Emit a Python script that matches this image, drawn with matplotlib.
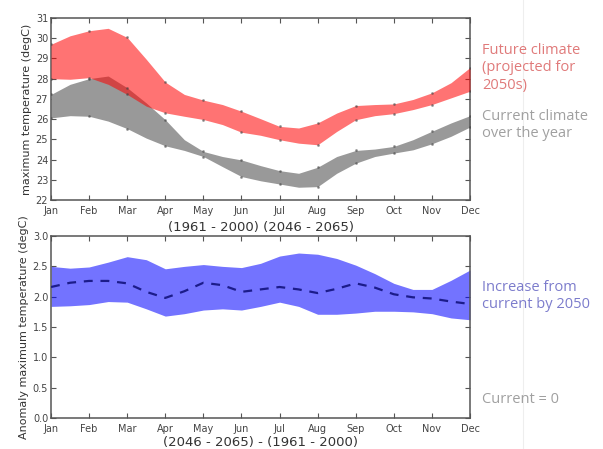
import matplotlib
matplotlib.use('Agg')
import matplotlib.pyplot as plt
import numpy as np
from matplotlib.lines import Line2D

# half-month samples, Jan .. Dec (23 points)
RED_HI = [29.70, 30.12, 30.37, 30.49, 30.04, 28.96, 27.83, 27.22, 26.94, 26.72,
          26.39, 26.02, 25.64, 25.56, 25.81, 26.30, 26.67, 26.72, 26.75, 26.97,
          27.30, 27.80, 28.55]
RED_LO = [28.00, 27.97, 28.05, 27.72, 27.22, 26.64, 26.31, 26.14, 25.98, 25.73,
          25.35, 25.20, 24.98, 24.81, 24.73, 25.39, 25.97, 26.17, 26.27, 26.47,
          26.72, 27.05, 27.38]
GRAY_HI = [27.22, 27.72, 28.00, 28.13, 27.55, 26.80, 25.97, 24.98, 24.40, 24.15,
           23.98, 23.70, 23.45, 23.32, 23.62, 24.15, 24.45, 24.52, 24.65, 24.98,
           25.40, 25.81, 26.17]
GRAY_LO = [26.06, 26.17, 26.14, 25.90, 25.53, 25.06, 24.68, 24.45, 24.15, 23.65,
           23.16, 22.95, 22.79, 22.63, 22.66, 23.32, 23.82, 24.15, 24.32, 24.48,
           24.78, 25.15, 25.61]

BLUE_HI = [2.50, 2.47, 2.49, 2.57, 2.66, 2.61, 2.46, 2.50, 2.53, 2.50, 2.48, 2.55,
           2.67, 2.72, 2.70, 2.63, 2.52, 2.38, 2.22, 2.12, 2.12, 2.27, 2.44]
BLUE_LO = [1.84, 1.85, 1.87, 1.92, 1.91, 1.80, 1.68, 1.72, 1.78, 1.80, 1.78, 1.84,
           1.91, 1.84, 1.71, 1.71, 1.73, 1.76, 1.76, 1.75, 1.72, 1.65, 1.62]
BLUE_MID = [2.16, 2.23, 2.26, 2.26, 2.22, 2.08, 1.98, 2.09, 2.23, 2.19, 2.08, 2.12,
            2.16, 2.12, 2.06, 2.13, 2.22, 2.15, 2.04, 1.99, 1.97, 1.92, 1.88]

MONTHS = ['Jan', 'Feb', 'Mar', 'Apr', 'May', 'Jun',
          'Jul', 'Aug', 'Sep', 'Oct', 'Nov', 'Dec']

plt.rcParams.update({
    'font.family': 'DejaVu Sans',
    'xtick.direction': 'in',
    'ytick.direction': 'in',
    'xtick.top': True,
    'ytick.right': True,
    'xtick.major.size': 3.5,
    'ytick.major.size': 3.5,
    'xtick.color': '#555555',
    'ytick.color': '#555555',
    'xtick.labelcolor': '#444444',
    'ytick.labelcolor': '#444444',
    'axes.edgecolor': '#555555',
    'axes.linewidth': 1.1,
    'lines.solid_joinstyle': 'round',
})

x = np.arange(len(RED_HI)) * 0.5
fig = plt.figure(figsize=(6.03, 4.49), dpi=100)
ax1 = fig.add_axes([0.0846, 0.5546, 0.6949, 0.4053])
ax2 = fig.add_axes([0.0846, 0.0690, 0.6949, 0.4053])

ax1.fill_between(x, GRAY_LO, GRAY_HI, color='#999999', lw=0, zorder=2)
ax1.fill_between(x, RED_LO, RED_HI, color='red', alpha=0.55, lw=0, zorder=3)
for ys in (RED_HI, RED_LO, GRAY_HI, GRAY_LO):
    ax1.plot(x[::2], ys[::2], ls='none', marker='o', ms=1.1, color='#444444',
             alpha=0.45, zorder=4)
ax1.set_xlim(0, 11)
ax1.set_ylim(22, 31)
ax1.set_yticks(range(22, 32))
ax1.set_ylabel('maximum temperature (degC)', fontsize=8, color='#333333', labelpad=3)
ax1.set_xlabel('(1961 - 2000) (2046 - 2065)', fontsize=9.5, color='#333333', labelpad=4)

ax2.fill_between(x, BLUE_LO, BLUE_HI, color='blue', alpha=0.55, lw=0, zorder=2)
ax2.plot(x, BLUE_MID, color='#1c1c8a', lw=1.6, dashes=(4, 3.5), zorder=3)
ax2.set_xlim(0, 11)
ax2.set_ylim(0, 3)
ax2.set_yticks(np.arange(0, 3.01, 0.5))
ax2.set_ylabel('Anomaly maximum temperature (degC)', fontsize=8, color='#333333',
               labelpad=3)
ax2.set_xlabel('(2046 - 2065) - (1961 - 2000)', fontsize=9.5, color='#333333',
               labelpad=1.5)

for ax in (ax1, ax2):
    ax.set_xticks(range(12))
    ax.set_xticklabels(MONTHS)
    ax.tick_params(labelsize=7)
    ax.tick_params(axis='x', pad=4)
    ax.tick_params(axis='y', pad=2)

side = dict(fontsize=10.5, family='Open Sans', va='top', ha='left',
            linespacing=1.25)
fig.text(0.799, 0.905, 'Future climate\n(projected for\n2050s)', color='#e07a7a', **side)
fig.text(0.799, 0.758, 'Current climate\nover the year', color='#a0a0a0', **side)
fig.text(0.799, 0.377, 'Increase from\ncurrent by 2050', color='#7c7ccc', **side)
fig.text(0.799, 0.128, 'Current = 0', color='#a0a0a0', **side)

fig.add_artist(Line2D([0.867, 0.867], [0, 1], color='#eeeeee', lw=0.8,
                      transform=fig.transFigure))

fig.savefig('out.png', dpi=100)
